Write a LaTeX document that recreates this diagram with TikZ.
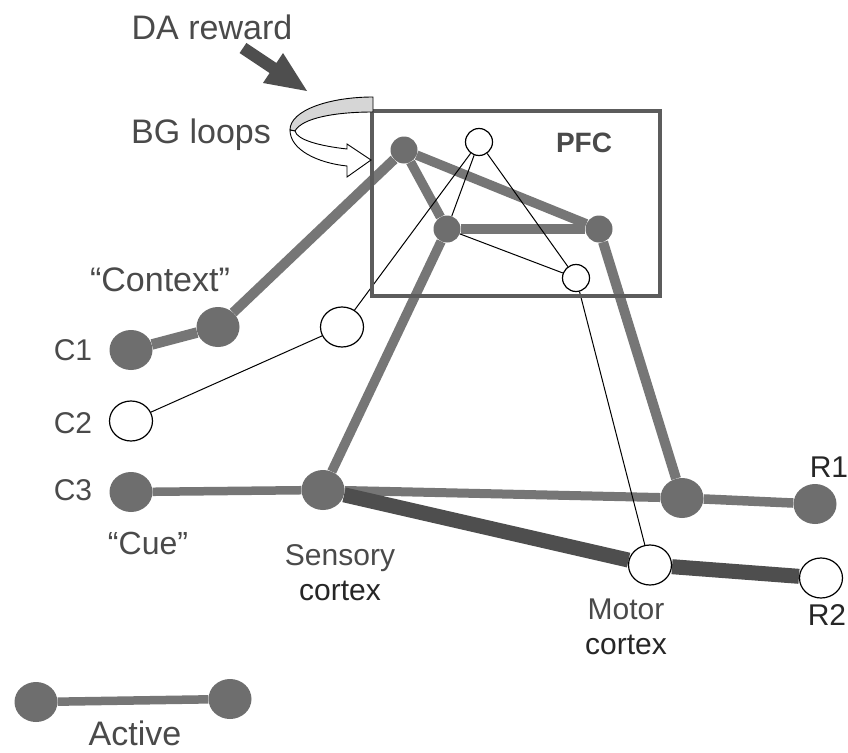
\documentclass[tikz,border=0pt]{standalone}
\usepackage{fontspec}
\setmainfont{Liberation Sans}
\usetikzlibrary{shapes.geometric,backgrounds}
\definecolor{nodegray}{HTML}{6E6E6E}
\definecolor{linegray}{HTML}{767676}
\definecolor{darkline}{HTML}{4E4E4E}
\definecolor{boxgray}{HTML}{5C5C5C}
\definecolor{txtgray}{HTML}{4A4A4A}
\definecolor{txtdark}{HTML}{262626}
\definecolor{bandgray}{HTML}{D6D6D6}
\begin{document}
\begin{tikzpicture}[x=1pt,y=-1pt,
  big/.style={ellipse,inner sep=0pt,minimum width=43pt,minimum height=40pt},
  small/.style={circle,inner sep=0pt,minimum size=27pt},
  act/.style={fill=nodegray,draw=none},
  inact/.style={fill=white,draw=black,line width=1.2pt},
  graye/.style={draw=linegray,line width=9.5pt},
  darke/.style={draw=darkline,line width=15pt},
  thine/.style={draw=black,line width=1pt},
  lbl/.style={font=\fontsize{30}{36}\selectfont,text=txtgray,inner sep=0pt},
  lblbig/.style={font=\fontsize{34}{40}\selectfont,text=txtgray,inner sep=0pt},
  lbldark/.style={font=\fontsize{30}{35}\selectfont,text=txtdark,inner sep=0pt,align=center}
]
\useasboundingbox (0,0) rectangle (848,752);

% nodes
\node[big,act] (c1) at (131,350) {};
\node[big,act] (ctx) at (218,327) {};
\node[big,inact] (c2) at (131,421) {};
\node[big,inact] (o1) at (342,327) {};
\node[big,act] (c3) at (131,492) {};
\node[big,act] (sens) at (323,490) {};
\node[big,act] (mr1) at (682,498) {};
\node[big,act] (r1) at (815,504) {};
\node[big,inact] (mot) at (650,565) {};
\node[big,inact] (r2) at (821,578) {};
\node[small,act] (p1) at (404,150) {};
\node[small,inact] (p2) at (479,142) {};
\node[small,act] (p3) at (447,229) {};
\node[small,act] (p4) at (599,229) {};
\node[small,inact] (p5) at (576,278) {};
\node[big,act] (la) at (36,702) {};
\node[big,act] (lb) at (230,699) {};

\begin{scope}[on background layer]
  \fill[white] (0,0) rectangle (848,752);
  \draw[graye,line width=10.5pt] (c1) -- (ctx);
  \draw[graye,line width=10pt] (ctx) -- (p1);
  \draw[graye] (p1) -- (p3);
  \draw[graye] (p1) -- (p4);
  \draw[graye] (p3) -- (p4);
  \draw[graye] (p3) -- (sens);
  \draw[graye,line width=10pt] (p4) -- (mr1);
  \draw[graye,line width=8.5pt] (c3) -- (sens);
  \draw[graye,line width=9pt] (sens) -- (mr1);
  \draw[graye] (mr1) -- (r1);
  \draw[graye,line width=8.5pt] (la) -- (lb);
  \draw[darke] (sens) -- (mot);
  \draw[darke] (mot) -- (r2);
  \draw[thine] (c2) -- (o1);
  \draw[thine] (o1) -- (p2);
  \draw[thine] (p2) -- (p3);
  \draw[thine] (p2) -- (p5);
  \draw[thine] (p3) -- (p5);
  \draw[thine] (p5) -- (mot);
  % PFC box
  \draw[draw=boxgray,line width=4pt] (372,111) rectangle (660,296);
\end{scope}

% BG loop ribbon
\filldraw[fill=bandgray,draw=black,line width=0.9pt]
  (373,97) .. controls (330,97) and (290,110) .. (290,130)
  -- (295,131) .. controls (302,118) and (335,112) .. (373,112) -- cycle;
\filldraw[fill=white,draw=black,line width=0.9pt]
  (290,130) .. controls (290,150) and (318,163) .. (347,166)
  -- (347,177) -- (371,160) -- (347,144) -- (347,149)
  .. controls (320,146) and (297,140) .. (295,131) -- cycle;

% DA reward arrow
\fill[darkline] (239.6,53) -- (269.6,73) -- (263,83) -- (307,91) -- (283,53) -- (276.4,63) -- (246.4,43) -- cycle;

% labels
\node[lblbig] (tda) at (212,27) {DA reward};
\node[lblbig] (tbg) at (201,135) {BG loops};
\node[lblbig] (tctx) at (160,280) {“Context”};
\node[lbl] (tc1) at (73,350) {C1};
\node[lbl] (tc2) at (73,423) {C2};
\node[lbl] (tc3) at (73,490) {C3};
\node[lbl,font=\fontsize{32}{38}\selectfont] (tcue) at (148,543) {“Cue”};
\node[lbldark] (tsens) at (340,573) {\textcolor{txtgray}{Sensory}\\cortex};
\node[lbldark] (tmot) at (626,627) {\textcolor{txtgray}{Motor}\\cortex};
\node[lbl,text=txtdark] (tr1) at (829,467) {R1};
\node[lbl,text=txtdark] (tr2) at (827,615) {R2};
\node[lbl,font=\fontsize{28}{34}\selectfont\bfseries] (tpfc) at (584,143) {PFC};
\node[lblbig] (tact) at (135,733) {Active};
\end{tikzpicture}
\end{document}
